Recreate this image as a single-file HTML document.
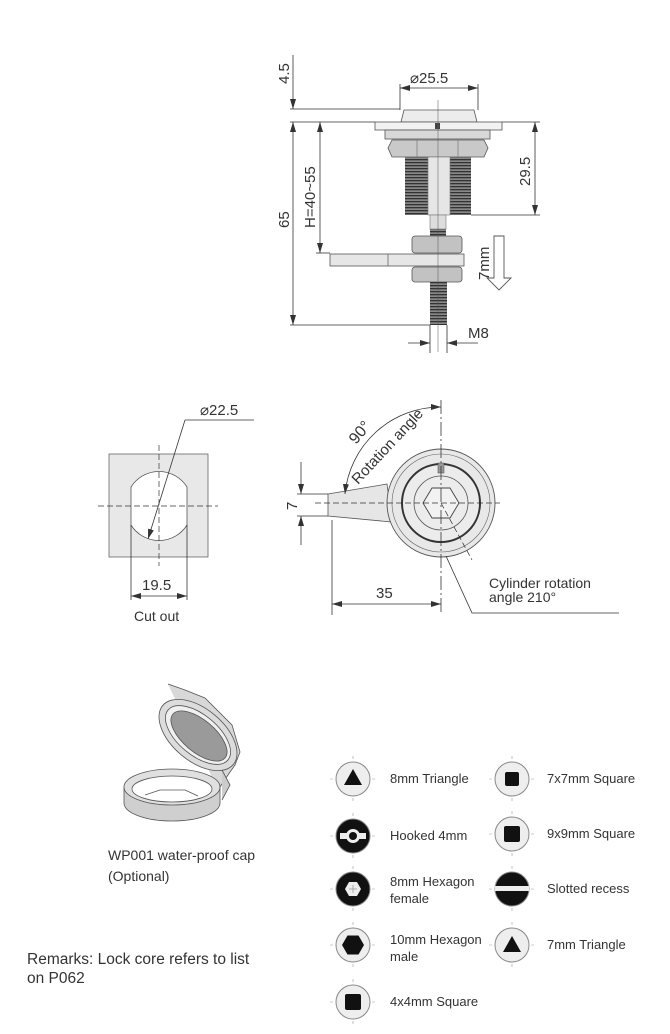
<!DOCTYPE html>
<html><head><meta charset="utf-8"><style>
html,body{margin:0;padding:0;background:#fff;}
svg{display:block;font-family:"Liberation Sans",sans-serif;}
.l{stroke:#333;stroke-width:0.8;fill:none}
.d{stroke:#333;stroke-width:0.7;fill:none;stroke-dasharray:6 3}
.t{fill:#333;font-size:15px}
.s{fill:#333;font-size:12.5px}
</style></head><body>
<svg width="670" height="1034" viewBox="0 0 670 1034" xmlns="http://www.w3.org/2000/svg">
<defs>
<marker id="a" markerWidth="10" markerHeight="6" refX="10" refY="3" orient="auto-start-reverse" markerUnits="userSpaceOnUse"><path d="M0,0 L10,3 L0,6z" fill="#333"/></marker>
<pattern id="th" width="4" height="3" patternUnits="userSpaceOnUse"><rect width="4" height="3" fill="#888"/><rect width="4" height="1.3" fill="#333"/></pattern>
</defs>

<!-- ===== TOP DRAWING ===== -->
<path d="M401,122 L404,110 L474,110 L477,122z" fill="#ececec" stroke="#555" stroke-width="0.8"/>
<rect x="375" y="122" width="127" height="8" fill="#f2f2f2" stroke="#555" stroke-width="0.8"/>
<rect x="385" y="130" width="105" height="9" fill="#d8d8d8" stroke="#555" stroke-width="0.8"/>
<rect x="435" y="123" width="5" height="6" fill="#444"/>
<path d="M392,140 L484,140 L488,148 L484,157 L392,157 L388,148z" fill="#c9c9c9" stroke="#555" stroke-width="0.8"/>
<line x1="417" y1="140" x2="417" y2="157" stroke="#777" stroke-width="0.7"/>
<line x1="458" y1="140" x2="458" y2="157" stroke="#777" stroke-width="0.7"/>
<rect x="405" y="157" width="23" height="58" fill="url(#th)"/>
<rect x="450" y="157" width="21" height="58" fill="url(#th)"/>
<rect x="428" y="157" width="22" height="58" fill="#e6e6e6" stroke="#777" stroke-width="0.6"/>
<rect x="430" y="215" width="16" height="14" fill="#ddd" stroke="#777" stroke-width="0.6"/>
<rect x="430" y="229" width="16" height="7" fill="url(#th)"/>
<rect x="412" y="236" width="50" height="17" rx="3" fill="#c2c2c2" stroke="#555" stroke-width="0.8"/>
<rect x="330" y="254" width="134" height="12" fill="#e6e6e6" stroke="#555" stroke-width="0.8"/>
<line x1="388" y1="254" x2="388" y2="266" stroke="#666" stroke-width="0.8"/>
<rect x="412" y="267" width="50" height="15" rx="3" fill="#c2c2c2" stroke="#555" stroke-width="0.8"/>
<rect x="430" y="282" width="17" height="43" fill="url(#th)"/>
<line x1="438" y1="100" x2="438" y2="352" stroke="#555" stroke-width="0.5"/>
<line class="l" x1="290" y1="109" x2="400" y2="109"/>
<line class="l" x1="290" y1="122" x2="375" y2="122"/>
<line class="l" x1="293" y1="55" x2="293" y2="109" marker-end="url(#a)"/>
<line class="l" x1="293" y1="122" x2="293" y2="325" marker-start="url(#a)" marker-end="url(#a)"/>
<line class="l" x1="290" y1="325" x2="430" y2="325"/>
<text class="t" transform="translate(289,84) rotate(-90)">4.5</text>
<text class="t" transform="translate(289,228) rotate(-90)">65</text>
<line class="l" x1="320" y1="122" x2="320" y2="253" marker-start="url(#a)" marker-end="url(#a)"/>
<line class="l" x1="316" y1="253" x2="330" y2="253"/>
<text class="t" transform="translate(315,228) rotate(-90)">H=40~55</text>
<line class="l" x1="502" y1="122" x2="540" y2="122"/>
<line class="l" x1="471" y1="215" x2="540" y2="215"/>
<line class="l" x1="535" y1="122" x2="535" y2="215" marker-start="url(#a)" marker-end="url(#a)"/>
<text class="t" transform="translate(530,186) rotate(-90)">29.5</text>
<line class="l" x1="400" y1="84" x2="400" y2="110"/>
<line class="l" x1="478" y1="84" x2="478" y2="110"/>
<line class="l" x1="400" y1="88" x2="478" y2="88" marker-start="url(#a)" marker-end="url(#a)"/>
<text class="t" x="410" y="83">⌀25.5</text>
<path d="M494,236 L504,236 L504,278 L511,278 L499,290 L487,278 L494,278z" fill="#fff" stroke="#555" stroke-width="0.9"/>
<text class="t" transform="translate(489,280) rotate(-90)">7mm</text>
<line class="l" x1="430" y1="325" x2="430" y2="353"/>
<line class="l" x1="447" y1="325" x2="447" y2="353"/>
<line class="l" x1="408" y1="343" x2="430" y2="343" marker-end="url(#a)"/>
<line class="l" x1="478" y1="343" x2="447" y2="343" marker-end="url(#a)"/>
<text class="t" x="468" y="338">M8</text>

<!-- ===== CUT OUT ===== -->
<rect x="109" y="454" width="99" height="103" fill="#e8e8e8" stroke="#666" stroke-width="0.8"/>
<path d="M131,487 A33,33 0 0 1 187,487 L187,525 A33,33 0 0 1 131,525z" fill="#fff" stroke="#555" stroke-width="0.8"/>
<line class="d" x1="98" y1="506" x2="218" y2="506"/>
<line class="d" x1="159" y1="445" x2="159" y2="566"/>
<line class="l" x1="131" y1="525" x2="131" y2="600"/>
<line class="l" x1="187" y1="525" x2="187" y2="600"/>
<line class="l" x1="131" y1="596" x2="187" y2="596" marker-start="url(#a)" marker-end="url(#a)"/>
<text class="t" x="142" y="590">19.5</text>
<line class="l" x1="148" y1="539" x2="185" y2="420" marker-start="url(#a)"/>
<line class="l" x1="185" y1="420" x2="254" y2="420"/>
<text class="t" x="200" y="415">⌀22.5</text>
<text class="s" x="134" y="621" style="font-size:14px">Cut out</text>

<!-- ===== FRONT VIEW ===== -->
<path d="M328,494 L387,484 L392,522 L328,516z" fill="#e6e6e6" stroke="#555" stroke-width="0.8"/>
<circle cx="441" cy="503" r="54" fill="#e8e8e8" stroke="#555" stroke-width="0.9"/>
<circle cx="441" cy="503" r="49" fill="none" stroke="#666" stroke-width="0.6"/>
<circle cx="441" cy="503" r="39" fill="#ececec" stroke="#333" stroke-width="2"/>
<circle cx="441" cy="503" r="27" fill="none" stroke="#555" stroke-width="0.8"/>
<path d="M423,503 L432,488 L450,488 L459,503 L450,518 L432,518z" fill="#f2f2f2" stroke="#444" stroke-width="0.9"/>
<rect x="438" y="463" width="6" height="10" fill="#999" stroke="#444" stroke-width="0.5"/>
<line class="d" x1="315" y1="503" x2="500" y2="503"/>
<line class="l" x1="441" y1="400" x2="441" y2="615" style="stroke-dasharray:14 3 2 3"/>
<line class="d" x1="441" y1="503" x2="472" y2="560"/>
<path class="l" d="M345,494 A96,96 0 0 1 441,407" marker-start="url(#a)" marker-end="url(#a)"/>
<text class="t" transform="translate(356,445) rotate(-50)" style="font-size:16px">90°</text>
<text class="s" transform="translate(358,485) rotate(-47)" style="font-size:15px">Rotation angle</text>
<line class="l" x1="297" y1="494" x2="328" y2="494"/>
<line class="l" x1="297" y1="516" x2="328" y2="516"/>
<line class="l" x1="301" y1="462" x2="301" y2="494" marker-end="url(#a)"/>
<line class="l" x1="301" y1="545" x2="301" y2="516" marker-end="url(#a)"/>
<text class="t" transform="translate(297,510) rotate(-90)">7</text>
<line class="l" x1="332" y1="520" x2="332" y2="615"/>
<line class="l" x1="332" y1="604" x2="441" y2="604" marker-start="url(#a)" marker-end="url(#a)"/>
<text class="t" x="376" y="598">35</text>
<polyline class="l" points="446,556 472,613 619,613"/>
<text class="s" x="489" y="588" style="font-size:14px">Cylinder rotation</text>
<text class="s" x="489" y="602" style="font-size:14px">angle 210°</text>

<!-- ===== CAP ===== -->
<g stroke="#555" stroke-width="0.8">
<path d="M168,684 L185,690 L205,698 L232,725 L240,752 L235,765 L230,772 L218,790" fill="#d8d8d8"/>
<ellipse cx="198" cy="735" rx="46" ry="26" transform="rotate(40 198 735)" fill="#dcdcdc"/>
<ellipse cx="198" cy="735" rx="39" ry="20" transform="rotate(40 198 735)" fill="#f0f0f0"/>
<ellipse cx="199" cy="736" rx="34" ry="16" transform="rotate(40 199 736)" fill="#9a9a9a"/>
<path d="M222,770 L230,785 L222,800" fill="#ccc"/>
<path d="M124,787 L124,803 A48,18 0 0 0 220,803 L220,787z" fill="#cfcfcf"/>
<ellipse cx="172" cy="787" rx="48" ry="18" fill="#e0e0e0"/>
<ellipse cx="172" cy="789" rx="40" ry="13" fill="#fff"/>
<path d="M145,795 L160,790 L185,790 L198,796" fill="none"/>
</g>
<text class="s" x="108" y="860" style="font-size:14px">WP001 water-proof cap</text>
<text class="s" x="108" y="881" style="font-size:14px">(Optional)</text>
<text class="t" x="27" y="964" style="font-size:15.5px">Remarks: Lock core refers to list</text>
<text class="t" x="27" y="983" style="font-size:15.5px">on P062</text>

<!-- ===== ICONS ===== -->
<g stroke="#999" stroke-width="0.6" stroke-dasharray="3 3">
<line x1="330" y1="779" x2="376" y2="779"/><line x1="353" y1="756" x2="353" y2="802"/>
<line x1="330" y1="836" x2="376" y2="836"/><line x1="353" y1="813" x2="353" y2="859"/>
<line x1="330" y1="889" x2="376" y2="889"/><line x1="353" y1="866" x2="353" y2="912"/>
<line x1="330" y1="945" x2="376" y2="945"/><line x1="353" y1="922" x2="353" y2="968"/>
<line x1="330" y1="1002" x2="376" y2="1002"/><line x1="353" y1="979" x2="353" y2="1025"/>
<line x1="489" y1="779" x2="535" y2="779"/><line x1="512" y1="756" x2="512" y2="802"/>
<line x1="489" y1="834" x2="535" y2="834"/><line x1="512" y1="811" x2="512" y2="857"/>
<line x1="489" y1="889" x2="535" y2="889"/><line x1="512" y1="866" x2="512" y2="912"/>
<line x1="489" y1="945" x2="535" y2="945"/><line x1="512" y1="922" x2="512" y2="968"/>
</g>
<g stroke="#888" stroke-width="1">
<circle cx="353" cy="779" r="17" fill="#eee"/>
<circle cx="353" cy="836" r="17" fill="#111"/>
<circle cx="353" cy="889" r="17" fill="#111"/>
<circle cx="353" cy="945" r="17" fill="#eee"/>
<circle cx="353" cy="1002" r="17" fill="#eee"/>
<circle cx="512" cy="779" r="17" fill="#eee"/>
<circle cx="512" cy="834" r="17" fill="#eee"/>
<circle cx="512" cy="889" r="17" fill="#111"/>
<circle cx="512" cy="945" r="17" fill="#eee"/>
</g>
<path d="M353,769 L362,785 L344,785z" fill="#111"/>
<path d="M340,833 L366,833 L366,839 L340,839z" fill="#eee"/><circle cx="353" cy="836" r="7" fill="#eee"/><circle cx="353" cy="836" r="4" fill="#111"/>
<path d="M345,889 L349,882 L357,882 L361,889 L357,896 L349,896z" fill="#eee"/>
<path d="M349,889 L357,889 M353,885 L353,893" stroke="#999" stroke-width="0.8"/>
<path d="M342,945 L347.5,935.5 L358.5,935.5 L364,945 L358.5,954.5 L347.5,954.5z" fill="#111"/>
<rect x="345" y="994" width="16" height="16" rx="2" fill="#111"/>
<rect x="505" y="772" width="14" height="14" rx="2" fill="#111"/>
<rect x="504" y="826" width="16" height="16" rx="2" fill="#111"/>
<rect x="495" y="886" width="34" height="5" fill="#eee"/>
<path d="M512,936 L521,952 L503,952z" fill="#111"/>
<g class="s" style="font-size:13px">
<text x="390" y="783">8mm Triangle</text>
<text x="390" y="840">Hooked 4mm</text>
<text x="390" y="886">8mm Hexagon</text>
<text x="390" y="903">female</text>
<text x="390" y="944">10mm Hexagon</text>
<text x="390" y="961">male</text>
<text x="390" y="1006">4x4mm Square</text>
<text x="547" y="783">7x7mm Square</text>
<text x="547" y="838">9x9mm Square</text>
<text x="547" y="893">Slotted recess</text>
<text x="547" y="949">7mm Triangle</text>
</g>
</svg>
</body></html>
